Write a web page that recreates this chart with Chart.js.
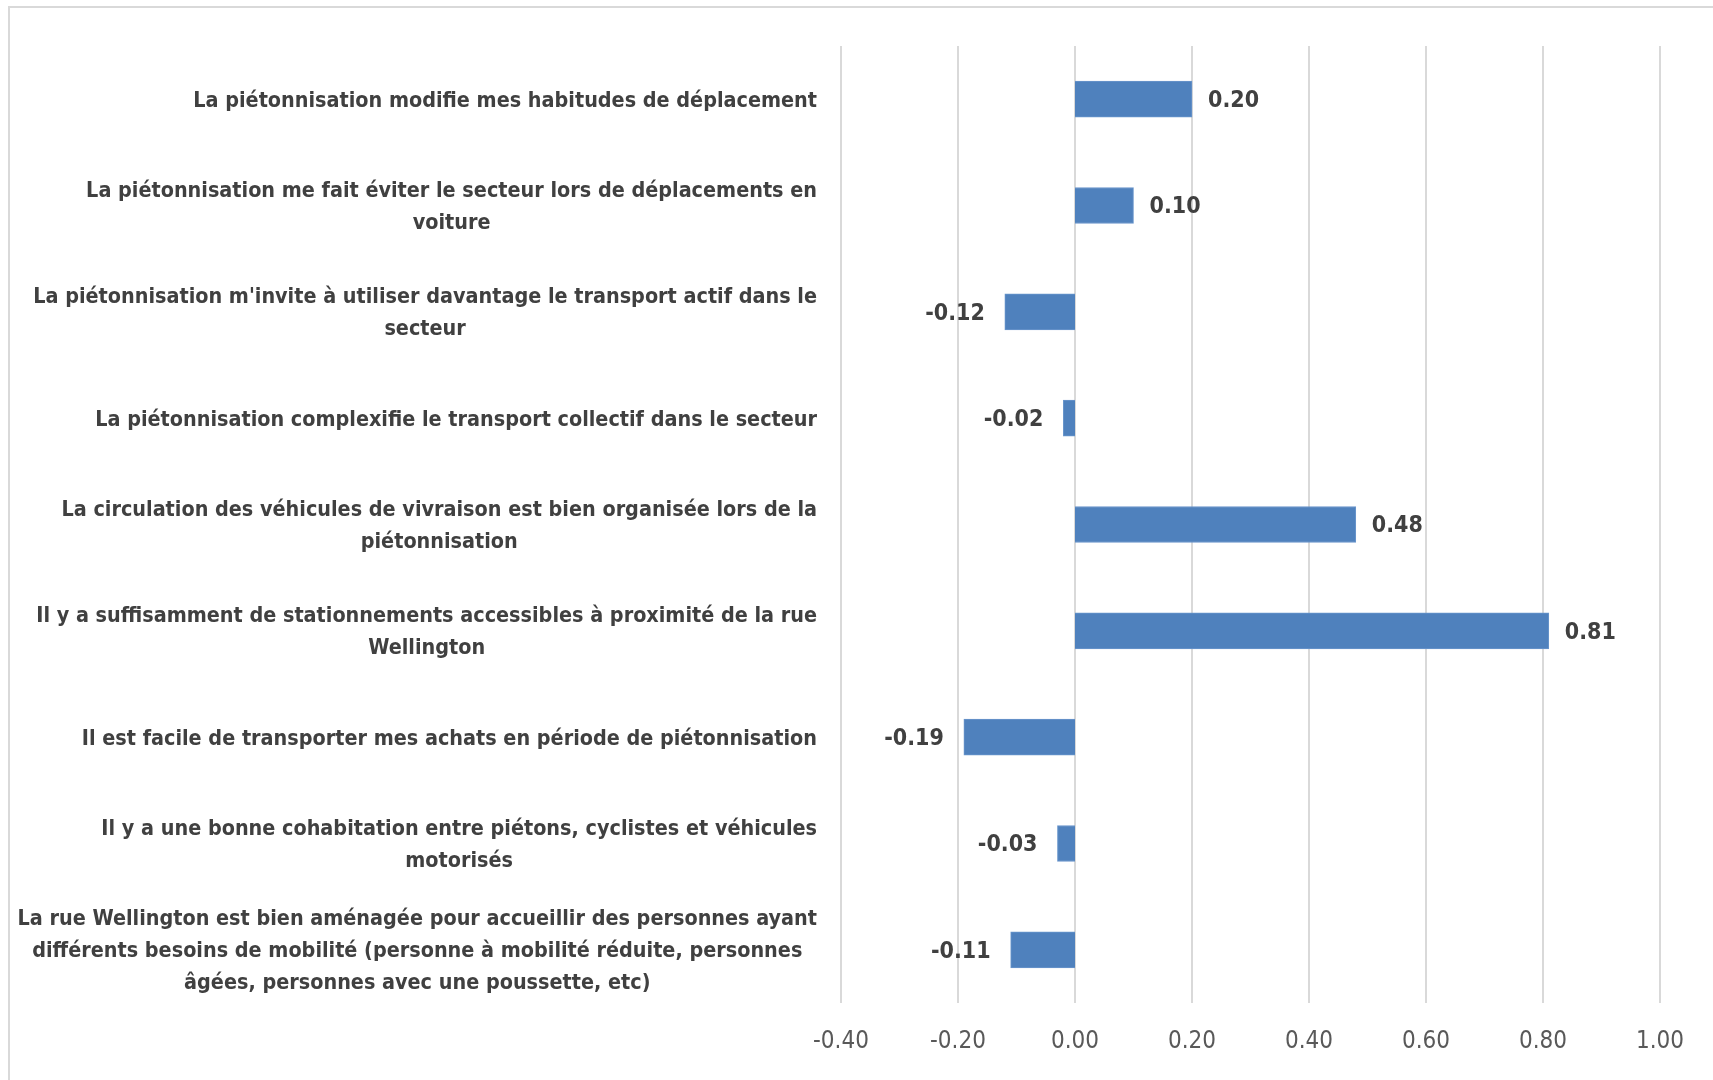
<!DOCTYPE html>
<html>
<head>
<meta charset="utf-8">
<script src="https://cdn.jsdelivr.net/npm/chart.js@4"></script>
<style>
  html, body { margin: 0; padding: 0; background: #fff; }
  #wrap { position: relative; width: 1713px; height: 1080px; overflow: hidden; }
  #frame { position: absolute; left: 8px; top: 6px; width: 1800px; height: 1200px;
           border-top: 2px solid #d9d9d9; border-left: 2px solid #d9d9d9; }
  canvas { position: absolute; left: 0; top: 0; }
</style>
</head>
<body>
<div id="wrap">
  <div id="frame"></div>
  <canvas id="chart" width="1713" height="1080"></canvas>
</div>
<script>
const categories = [
  ["La piétonnisation modifie mes habitudes de déplacement"],
  ["La piétonnisation me fait éviter le secteur lors de déplacements en", "voiture"],
  ["La piétonnisation m'invite à utiliser davantage le transport actif dans le", "secteur"],
  ["La piétonnisation complexifie le transport collectif dans le secteur"],
  ["La circulation des véhicules de vivraison est bien organisée lors de la", "piétonnisation"],
  ["Il y a suffisamment de stationnements accessibles à proximité de la rue", "Wellington"],
  ["Il est facile de transporter mes achats en période de piétonnisation"],
  ["Il y a une bonne cohabitation entre piétons, cyclistes et véhicules", "motorisés"],
  ["La rue Wellington est bien aménagée pour accueillir des personnes ayant", "différents besoins de mobilité (personne à mobilité réduite, personnes", "âgées, personnes avec une poussette, etc)"]
];
const scores = [0.20, 0.10, -0.12, -0.02, 0.48, 0.81, -0.19, -0.03, -0.11];
const axisMin = -0.4;
const axisMax = 1.0;
const axisStep = 0.2;

const FONT = "'DejaVu Sans Condensed', 'DejaVu Sans', sans-serif";

// category labels: lines centred on each other, block right-aligned to the plot
const categoryLabels = {
  id: 'categoryLabels',
  afterDraw(chart) {
    const ctx = chart.ctx;
    const y = chart.scales.y;
    const right = chart.chartArea.left - 24;
    const lineH = 32;
    ctx.save();
    ctx.font = "bold 21.4px " + FONT;
    ctx.fillStyle = '#404040';
    ctx.textAlign = 'center';
    ctx.textBaseline = 'middle';
    categories.forEach((lines, i) => {
      const cy = y.getPixelForTick(i) + 2;
      const w = Math.max(...lines.map(l => ctx.measureText(l).width));
      const cx = right - w / 2;
      const top = cy - (lines.length - 1) * lineH / 2;
      lines.forEach((l, j) => ctx.fillText(l, cx, top + j * lineH));
    });
    ctx.restore();
  }
};

// value labels next to each bar end
const valueLabels = {
  id: 'valueLabels',
  afterDatasetsDraw(chart) {
    const ctx = chart.ctx;
    const meta = chart.getDatasetMeta(0);
    ctx.save();
    ctx.font = "bold 23px " + FONT;
    ctx.fillStyle = '#404040';
    ctx.textBaseline = 'middle';
    meta.data.forEach((bar, i) => {
      const v = scores[i];
      if (v >= 0) {
        ctx.textAlign = 'left';
        ctx.fillText(v.toFixed(2), bar.x + 16, bar.y + 2);
      } else {
        ctx.textAlign = 'right';
        ctx.fillText(v.toFixed(2), bar.x - 20, bar.y + 2);
      }
    });
    ctx.restore();
  }
};

new Chart(document.getElementById('chart'), {
  type: 'bar',
  data: {
    labels: categories,
    datasets: [{
      data: scores,
      backgroundColor: '#4f81bd',
      borderColor: '#6a96cc',
      borderWidth: 1,
      barThickness: 36
    }]
  },
  options: {
    indexAxis: 'y',
    responsive: false,
    animation: false,
    layout: { padding: { top: 46, right: 53, left: 0, bottom: 0 } },
    plugins: {
      legend: { display: false },
      tooltip: { enabled: false }
    },
    scales: {
      x: {
        min: axisMin,
        max: axisMax,
        ticks: {
          stepSize: axisStep,
          padding: 24,
          color: '#595959',
          font: { family: FONT, size: 24 },
          callback: v => (Math.abs(v) < 1e-9 ? 0 : Number(v)).toFixed(2)
        },
        grid: { color: '#d9d9d9', lineWidth: 2, drawTicks: false },
        border: { display: false },
        afterFit: s => { s.height = 77; }
      },
      y: {
        ticks: { display: false },
        grid: { display: false },
        border: { display: false },
        afterFit: s => { s.width = 841; }
      }
    }
  },
  plugins: [categoryLabels, valueLabels]
});
</script>
</body>
</html>
